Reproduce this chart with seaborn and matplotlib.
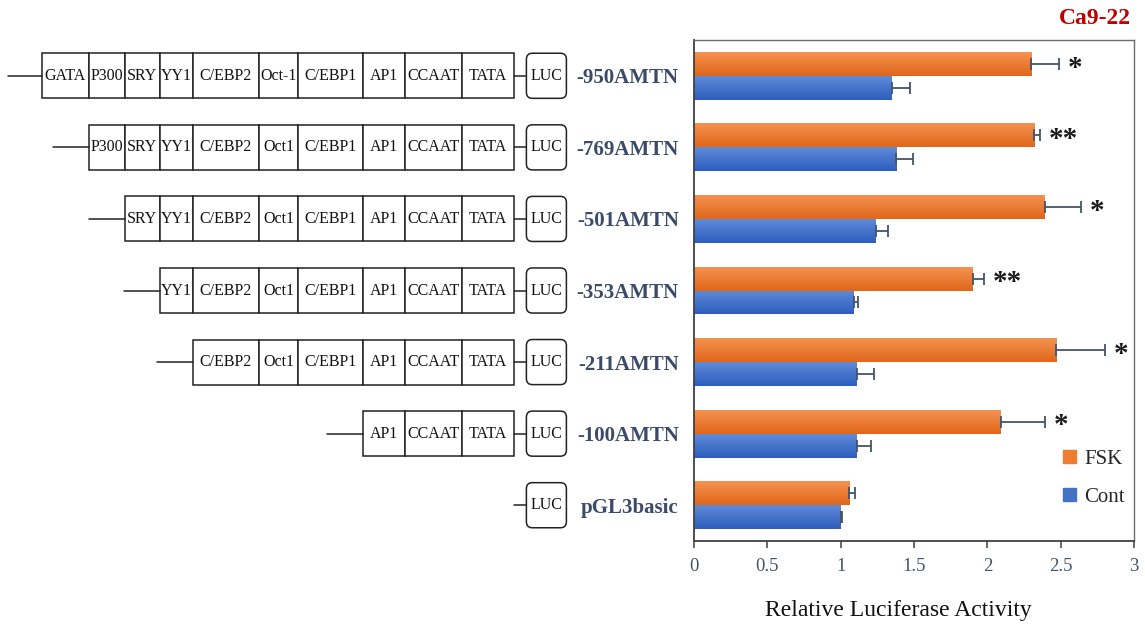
import matplotlib
matplotlib.use("Agg")
import matplotlib.pyplot as plt
from matplotlib.patches import Rectangle, FancyBboxPatch
import numpy as np
import pandas as pd
import seaborn as sns

# ---- data -------------------------------------------------------------
constructs = ["-950AMTN", "-769AMTN", "-501AMTN", "-353AMTN",
              "-211AMTN", "-100AMTN", "pGL3basic"]
fsk = [2.30, 2.32, 2.39, 1.90, 2.47, 2.09, 1.06]
fsk_err = [0.19, 0.04, 0.25, 0.08, 0.33, 0.30, 0.04]
cont = [1.35, 1.38, 1.24, 1.09, 1.11, 1.11, 1.00]
cont_err = [0.12, 0.11, 0.08, 0.03, 0.12, 0.10, 0.01]
significance = ["*", "**", "*", "**", "*", "*", ""]
treatments = ["FSK", "Cont"]
x_ticks = [0, 0.5, 1, 1.5, 2, 2.5, 3]
x_tick_labels = ["0", "0.5", "1", "1.5", "2", "2.5", "3"]

# promoter elements (5' -> 3') and how many 3' elements each construct keeps
elements = ["GATA", "P300", "SRY", "YY1", "C/EBP2", "Oct1",
            "C/EBP1", "AP1", "CCAAT", "TATA"]
elements_kept = [10, 9, 8, 7, 6, 3, 0]
oct_label_full = "Oct-1"

# ---- style ------------------------------------------------------------
sns.set_theme(style="white")
plt.rcParams["font.family"] = ["Liberation Serif", "DejaVu Serif"]

orange, blue = "#ED7D31", "#4472C4"
grad = {"FSK": ("#F59250", "#E0661A"), "Cont": ("#5E8BD8", "#2E5DBE")}
label_col = "#3B4A68"
err_col = "#44546A"

W, H = 1145, 627
fig = plt.figure(figsize=(W / 100, H / 100), dpi=100)
fig.patch.set_facecolor("white")
ax = fig.add_axes([694 / W, 86 / H, 440 / W, 501 / H])

df = pd.DataFrame({
    "construct": constructs * 2,
    "treatment": ["FSK"] * len(constructs) + ["Cont"] * len(constructs),
    "value": fsk + cont,
})
sns.barplot(data=df, y="construct", x="value", hue="treatment",
            order=constructs, hue_order=treatments,
            palette={"FSK": orange, "Cont": blue},
            width=0.67, errorbar=None, orient="h", legend=False, ax=ax)

ylim = ax.get_ylim()

# gradient shading and one-sided error bars on every bar
errs = {"FSK": fsk_err, "Cont": cont_err}
for treat, container in zip(treatments, ax.containers):
    c_top, c_bot = (np.array(matplotlib.colors.to_rgb(c)) for c in grad[treat])
    t = np.linspace(0, 1, 64)[:, None, None]
    img = c_top * (1 - t) + c_bot * t
    for bar, e in zip(container, errs[treat]):
        x0, y0 = bar.get_x(), bar.get_y()
        w, h = bar.get_width(), bar.get_height()
        im = ax.imshow(img, extent=[x0, x0 + w, y0 + h, y0], origin="upper",
                       aspect="auto", zorder=bar.get_zorder() + 0.1)
        im.set_clip_path(bar)
        ax.errorbar(w, y0 + h / 2, xerr=[[0], [e]], fmt="none",
                    ecolor=err_col, elinewidth=1.3, capsize=4, capthick=1.3,
                    zorder=5)

# significance marks next to the FSK bars
for bar, e, s in zip(ax.containers[0], fsk_err, significance):
    if s:
        ax.text(bar.get_width() + e + 0.06, bar.get_y() + bar.get_height() / 2 + 0.06,
                s, ha="left", va="center", fontsize=21, fontweight="bold",
                color="#1a1a1a")

ax.set_xlim(0, 3)
ax.set_ylim(ylim)
ax.set_xticks(x_ticks)
ax.set_xticklabels(x_tick_labels)
ax.tick_params(axis="x", direction="out", length=5, width=1.1, color="#404040",
               labelsize=13.5, labelcolor=err_col, pad=7, bottom=True)
ax.tick_params(axis="y", length=0, pad=11, labelsize=15, labelcolor=label_col)
for lab in ax.get_yticklabels():
    lab.set_fontweight("bold")
ax.set_ylabel("")
ax.set_xlabel("Relative Luciferase Activity", fontsize=17, color="#111111")
ax.xaxis.set_label_coords(0.464, -0.117)
for side, sp in ax.spines.items():
    sp.set_visible(True)
    sp.set_color("#404040" if side in ("left", "bottom") else "#6b6b6b")
    sp.set_linewidth(1.3 if side in ("left", "bottom") else 1.0)

handles = [Rectangle((0, 0), 1, 1, color=orange), Rectangle((0, 0), 1, 1, color=blue)]
ax.legend(handles, treatments, loc="upper left", bbox_to_anchor=(0.82, 0.198),
          frameon=False, fontsize=15, handlelength=0.6, handleheight=0.6,
          handletextpad=0.4, labelspacing=0.9, borderaxespad=0)

fig.text(1131 / W, 1 - 19 / H, "Ca9-22", ha="right", va="center",
         color="#C00000", fontweight="bold", fontsize=17)

# ---- promoter construct diagrams ---------------------------------------
dax = fig.add_axes([0, 86 / H, 575 / W, 501 / H])
dax.set_xlim(0, 575)
dax.set_ylim(ylim)
dax.axis("off")

elem_widths = [47, 36, 35, 33, 66, 39, 65, 42.5, 56.6, 51.8]
first_left = 42
edges = np.concatenate([[first_left], first_left + np.cumsum(elem_widths)])
tata_end = edges[-1]
luc_gap, luc_w, lead = 12.5, 40, 36
box_h = 0.63
ink = "#222222"

for row, n_keep in enumerate(elements_kept):
    yc = row
    start = len(elements) - n_keep
    for k in range(start, len(elements)):
        x0, x1 = edges[k], edges[k + 1]
        dax.add_patch(Rectangle((x0, yc - box_h / 2), x1 - x0, box_h,
                                facecolor="white", edgecolor=ink, lw=1.1))
        name = elements[k]
        if name == "Oct1" and row == 0:
            name = oct_label_full
        dax.text((x0 + x1) / 2, yc, name, ha="center", va="center",
                 fontsize=11.5, color="#111111")
    if n_keep:
        left = edges[start]
        dax.plot([max(left - lead, 8), left], [yc, yc], color=ink, lw=1.1)
    # linker from the promoter (or vector start) into the luciferase gene
    dax.plot([tata_end, tata_end + luc_gap], [yc, yc], color=ink, lw=1.1)
    lx = tata_end + luc_gap
    dax.add_patch(FancyBboxPatch((lx, yc - box_h / 2), luc_w, box_h,
                                 boxstyle="round,pad=0,rounding_size=6",
                                 mutation_aspect=1 / 71.5,
                                 facecolor="white", edgecolor=ink, lw=1.1))
    dax.text(lx + luc_w / 2, yc, "LUC", ha="center", va="center",
             fontsize=11.5, color="#111111")

fig.savefig("out.png", dpi=100)
